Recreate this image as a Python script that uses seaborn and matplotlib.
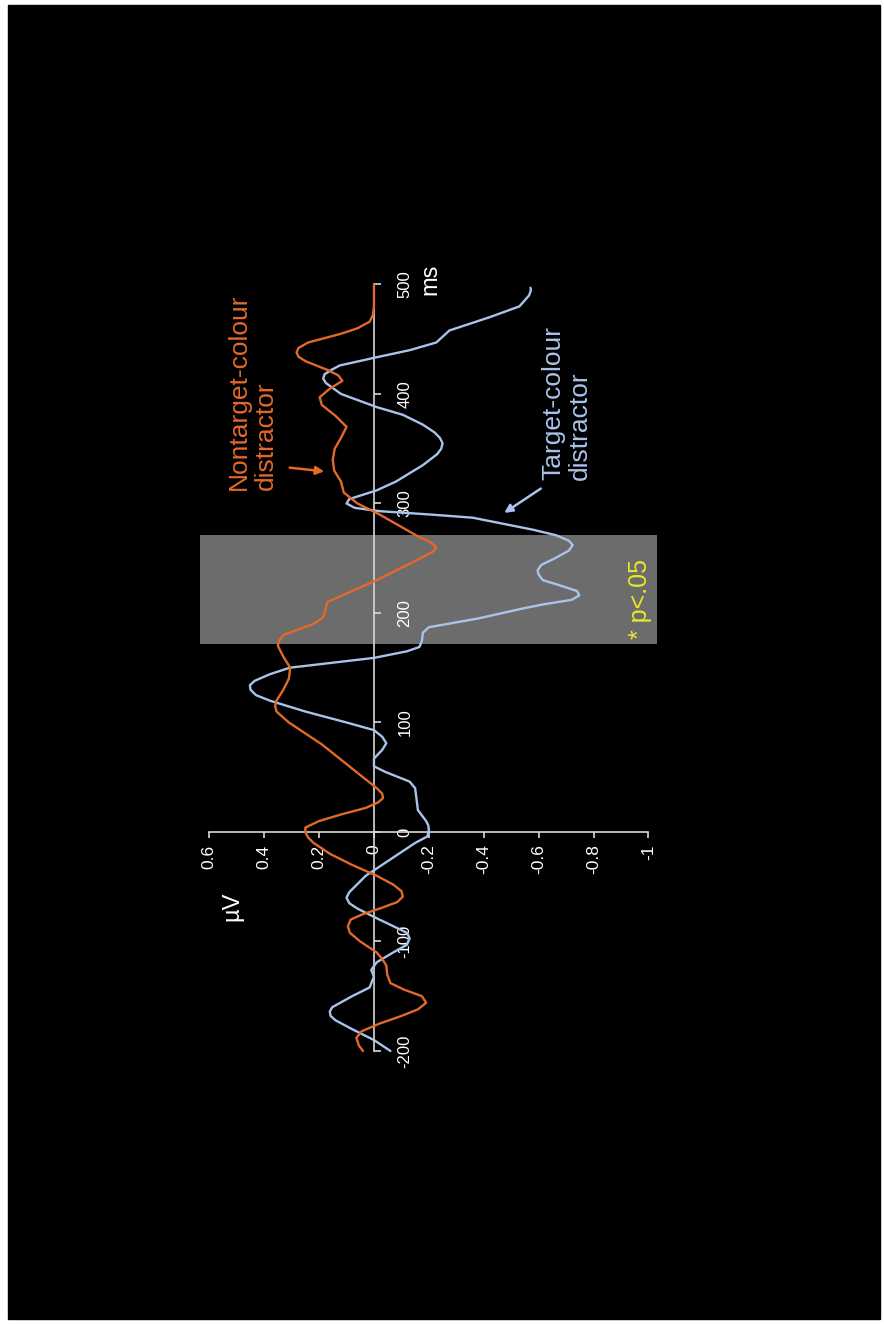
import matplotlib
matplotlib.use("Agg")
import matplotlib.pyplot as plt
import seaborn as sns
import pandas as pd

# ERP difference waves (µV) over time (ms)
nontarget_t = [-200, -195, -188, -182, -175, -168, -162, -156, -150, -144, -138, -130,
               -122, -116, -110, -100, -92, -86, -80, -75, -70, -64, -59, -54, -48,
               -40, -30, -20, -10, -5, 0, 4, 10, 16, 22, 27, 31, 35, 40, 50, 60, 70,
               80, 90, 100, 110, 115, 120, 130, 140, 150, 160, 170, 175, 180, 190,
               196, 200, 210, 220, 230, 240, 250, 256, 260, 264, 270, 280, 290, 300,
               310, 320, 330, 340, 350, 360, 370, 380, 390, 397, 405, 412, 417, 422,
               430, 434, 438, 442, 447, 455, 460, 466, 472, 480, 490, 500]
nontarget_v = [0.04, 0.055, 0.064, 0.045, -0.02, -0.1, -0.16, -0.19, -0.175, -0.11,
               -0.06, -0.048, -0.045, -0.03, -0.01, 0.05, 0.088, 0.095, 0.085, 0.04,
               -0.02, -0.085, -0.105, -0.1, -0.07, -0.01, 0.08, 0.16, 0.22, 0.24,
               0.25, 0.25, 0.2, 0.12, 0.03, -0.015, -0.033, -0.03, -0.01, 0.04, 0.09,
               0.14, 0.19, 0.25, 0.31, 0.355, 0.36, 0.355, 0.33, 0.31, 0.305, 0.33,
               0.35, 0.345, 0.33, 0.22, 0.185, 0.18, 0.17, 0.08, -0.01, -0.09, -0.17,
               -0.215, -0.227, -0.21, -0.16, -0.09, -0.02, 0.06, 0.11, 0.12, 0.145,
               0.15, 0.143, 0.12, 0.1, 0.14, 0.19, 0.198, 0.16, 0.115, 0.13, 0.17,
               0.25, 0.275, 0.282, 0.275, 0.24, 0.12, 0.06, 0.016, 0.004, 0.0, 0.0,
               0.0]

target_t = [-200, -190, -180, -172, -168, -164, -160, -150, -142, -132, -126, -119,
            -110, -103, -97, -92, -80, -70, -65, -60, -55, -50, -40, -30, -20, -10,
            -4, 2, 6, 10, 20, 30, 40, 46, 55, 60, 67, 75, 81, 87, 93, 100, 110, 120,
            125, 130, 134, 138, 144, 150, 159, 165, 169, 175, 182, 187, 195, 204,
            208, 212, 216, 220, 225, 230, 235, 239, 244, 250, 257, 262, 266, 271,
            276, 283, 287, 290, 293, 296, 300, 304, 308, 312, 320, 335, 345, 350,
            355, 360, 365, 372, 381, 388, 400, 410, 414, 418, 422, 426, 433, 440,
            447, 458, 470, 480, 490, 495, 497]
target_v = [-0.06, 0.0, 0.08, 0.14, 0.158, 0.161, 0.152, 0.08, 0.016, 0.0, 0.01,
            -0.01, -0.07, -0.12, -0.13, -0.12, -0.02, 0.06, 0.09, 0.1, 0.09, 0.07,
            0.03, -0.03, -0.09, -0.15, -0.195, -0.2, -0.198, -0.19, -0.16, -0.155,
            -0.15, -0.13, -0.04, 0.0, 0.0, -0.03, -0.045, -0.03, 0.0, 0.1, 0.25,
            0.38, 0.43, 0.45, 0.452, 0.435, 0.38, 0.307, 0.0, -0.12, -0.166, -0.175,
            -0.178, -0.2, -0.38, -0.54, -0.62, -0.72, -0.748, -0.74, -0.68, -0.615,
            -0.6, -0.596, -0.61, -0.66, -0.71, -0.724, -0.71, -0.663, -0.58, -0.44,
            -0.36, -0.2, -0.02, 0.07, 0.1, 0.09, 0.04, -0.01, -0.08, -0.178, -0.23,
            -0.245, -0.25, -0.24, -0.22, -0.178, -0.105, -0.01, 0.12, 0.175, 0.185,
            0.18, 0.155, 0.125, 0.0, -0.13, -0.227, -0.275, -0.42, -0.53, -0.565,
            -0.572, -0.57]

time_ticks = [-200, -100, 0, 100, 200, 300, 400, 500]
volt_ticks = [0.6, 0.4, 0.2, 0, -0.2, -0.4, -0.6, -0.8, -1]
volt_labels = ["0.6", "0.4", "0.2", "0", "-0.2", "-0.4", "-0.6", "-0.8", "-1"]
sig_window = (172, 271)

ORANGE = "#E2692A"
BLUE = "#A9C3EA"
GRAY = "#6c6c6c"
YELLOW = "#E8E82A"
AXIS = "#D8D8D8"

sns.set_theme(style="dark")
plt.rcParams["font.family"] = ["Liberation Sans", "DejaVu Sans"]
plt.rcParams["lines.solid_joinstyle"] = "round"
plt.rcParams["lines.solid_capstyle"] = "round"

fig = plt.figure(figsize=(8.84, 13.25), dpi=100)
fig.patch.set_facecolor("white")
# black slide area
fig.add_artist(plt.Rectangle((8 / 884, 6 / 1325), 872 / 884, 1314 / 1325,
                             transform=fig.transFigure, color="black", zorder=-10))

ax = fig.add_axes([0.2181, 0.1944, 0.5341, 0.6033])
ax.set_facecolor("none")
ax.set_xlim(0.66, -1.06)
ax.set_ylim(-215, 515)
ax.grid(False)

# significance window
ax.fill_betweenx(sig_window, 0.634, -1.03, color=GRAY, zorder=0, linewidth=0)

df_n = pd.DataFrame({"t": nontarget_t, "v": nontarget_v})
df_t = pd.DataFrame({"t": target_t, "v": target_v})
sns.lineplot(data=df_t, x="v", y="t", sort=False, estimator=None, color=BLUE,
             linewidth=1.7, ax=ax, zorder=3)
sns.lineplot(data=df_n, x="v", y="t", sort=False, estimator=None, color=ORANGE,
             linewidth=1.7, ax=ax, zorder=4)
ax.set_xlabel("")
ax.set_ylabel("")

# axes crossing at zero
for s in ["left", "top"]:
    ax.spines[s].set_visible(False)
ax.spines["right"].set_position(("data", 0))
ax.spines["right"].set_bounds(-200, 500)
ax.spines["bottom"].set_position(("data", 0))
ax.spines["bottom"].set_bounds(-1, 0.6)
for s in ["right", "bottom"]:
    ax.spines[s].set_visible(True)
    ax.spines[s].set_color(AXIS)
    ax.spines[s].set_linewidth(1.2)

ax.yaxis.tick_right()
ax.set_yticks(time_ticks)
ax.set_yticklabels([str(t) for t in time_ticks], rotation=90, va="center",
                   fontsize=12, color="white")
ax.set_xticks(volt_ticks)
ax.set_xticklabels(volt_labels, rotation=90, ha="center", va="top",
                   fontsize=12.5, color="white")
ax.tick_params(axis="y", right=True, left=False, direction="out", length=5,
               width=1.2, color=AXIS, pad=12)
ax.tick_params(axis="x", bottom=True, direction="out", length=4, width=1.2,
               color=AXIS, pad=5)

# unit labels
ax.text(0.517, -68, "µV", rotation=90, ha="center", va="center",
        color="white", fontsize=17)
ax.text(-0.205, 505, "ms", rotation=90, ha="center", va="center",
        color="white", fontsize=17)

# series labels with arrows
ax.text(0.444, 312, "Nontarget-colour\ndistractor", rotation=90, ha="center",
        va="bottom", multialignment="left", color=ORANGE, fontsize=19,
        linespacing=1.15)
ax.annotate("", xy=(0.171, 329), xytext=(0.317, 333),
            arrowprops=dict(arrowstyle="-|>", color=ORANGE, lw=1.8,
                            mutation_scale=12))
ax.text(-0.703, 321, "Target-colour\ndistractor", rotation=90, ha="center",
        va="bottom", multialignment="left", color=BLUE, fontsize=19,
        linespacing=1.15)
ax.annotate("", xy=(-0.466, 290), xytext=(-0.616, 315),
            arrowprops=dict(arrowstyle="-|>", color=BLUE, lw=1.8,
                            mutation_scale=12))

ax.text(-0.969, 213, "* p<.05", rotation=90, ha="center", va="center",
        color=YELLOW, fontsize=18)

fig.savefig("out.png", dpi=100, facecolor=fig.get_facecolor())
